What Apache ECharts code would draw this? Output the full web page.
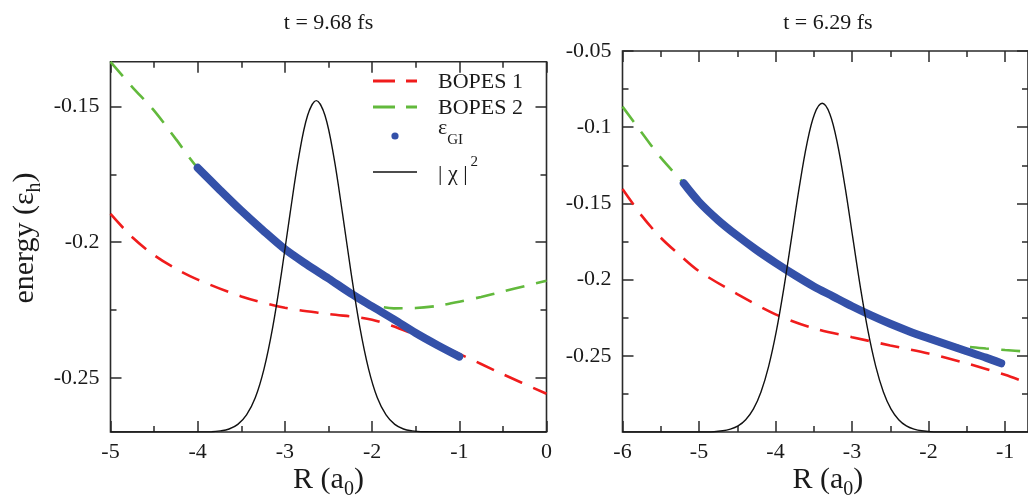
<!DOCTYPE html>
<html>
<head>
<meta charset="utf-8">
<script src="https://cdn.jsdelivr.net/npm/echarts@6/dist/echarts.min.js"></script>
<style>
  html, body { margin: 0; padding: 0; background: #fff; overflow: hidden; }
  #chart { width: 1028px; height: 500px; }
</style>
</head>
<body>
<div id="chart"></div>
<script>
// ---------- panel 1 : t = 9.68 fs ----------
const p1Title = 't = 9.68 fs';
const p1XTicks = [-5, -4, -3, -2, -1, 0];
const p1XMinor = [-4.5, -3.5, -2.5, -1.5, -0.5];
const p1YTicks = [-0.25, -0.2, -0.15];
const p1YMinor = [-0.225, -0.175];

const p1Bopes1R = [-5, -4.75, -4.5, -4.25, -4, -3.5, -3, -2.5, -2, -1.5, -1, -0.5, 0];
const p1Bopes1E = [-0.1896, -0.1982, -0.2048, -0.2098, -0.2138, -0.2200, -0.2242, -0.2265, -0.2286, -0.2342, -0.2412, -0.2487, -0.2559];

const p1Bopes2R = [-5, -4.75, -4.5, -4.25, -4, -3.5, -3, -2.5, -2.25, -2, -1.75, -1.5, -1.25, -1, -0.75, -0.5, -0.25, 0];
const p1Bopes2E = [-0.1335, -0.1428, -0.1515, -0.1620, -0.1726, -0.1884, -0.2026, -0.2134, -0.2186, -0.2228, -0.2244, -0.2243, -0.2235, -0.2220, -0.2202, -0.2182, -0.2162, -0.2142];

const p1GiR = [-4, -3.75, -3.5, -3.25, -3, -2.75, -2.5, -2.25, -2, -1.75, -1.5, -1.25, -1];
const p1GiE = [-0.1726, -0.1806, -0.1884, -0.1957, -0.2026, -0.2082, -0.2134, -0.2188, -0.2237, -0.2285, -0.2335, -0.2380, -0.2422];

const p1ChiR = [-5, -3.84, -3.74, -3.64, -3.54, -3.44, -3.34, -3.24, -3.14, -3.04, -2.94, -2.84, -2.74, -2.64,
                -2.54, -2.44, -2.34, -2.24, -2.14, -2.04, -1.94, -1.84, -1.74, -1.64, -1.54, -1.44, 0];
const p1ChiE = [-0.2700, -0.2699, -0.2696, -0.2689, -0.2672, -0.2637, -0.2574, -0.2468, -0.2314, -0.2115, -0.1893, -0.1684, -0.1533, -0.1478,
                -0.1533, -0.1684, -0.1893, -0.2115, -0.2314, -0.2468, -0.2574, -0.2637, -0.2672, -0.2689, -0.2696, -0.2699, -0.2700];

// ---------- panel 2 : t = 6.29 fs ----------
const p2Title = 't = 6.29 fs';
const p2XTicks = [-6, -5, -4, -3, -2, -1];
const p2XMinor = [-5.5, -4.5, -3.5, -2.5, -1.5];
const p2YTicks = [-0.25, -0.2, -0.15, -0.1, -0.05];
const p2YMinor = [-0.275, -0.225, -0.175, -0.125, -0.075];

const p2Bopes1R = [-6, -5.75, -5.5, -5.25, -5, -4.5, -4, -3.5, -3, -2.5, -2, -1.5, -1, -0.7];
const p2Bopes1E = [-0.1406, -0.1580, -0.1725, -0.1840, -0.1945, -0.2095, -0.2228, -0.2320, -0.2378, -0.2432, -0.2485, -0.2550, -0.2625, -0.2680];

const p2Bopes2R = [-6, -5.75, -5.5, -5.2, -5, -4.5, -4, -3.5, -3, -2.5, -2, -1.75, -1.5, -1.25, -1, -0.7];
const p2Bopes2E = [-0.0865, -0.1035, -0.1200, -0.1368, -0.1490, -0.1712, -0.1890, -0.2045, -0.2175, -0.2290, -0.2385, -0.2422, -0.2440, -0.2452, -0.2462, -0.2473];

const p2GiR = [-5.2, -5, -4.75, -4.5, -4.25, -4, -3.75, -3.5, -3.25, -3, -2.75, -2.5, -2.25, -2, -1.75, -1.5, -1.25, -1.05];
const p2GiE = [-0.1368, -0.1490, -0.1610, -0.1712, -0.1805, -0.1890, -0.1970, -0.2045, -0.2110, -0.2175, -0.2235, -0.2290, -0.2340, -0.2385, -0.2428, -0.2470, -0.2512, -0.2549];

const p2ChiR = [-6, -4.89, -4.69, -4.59, -4.49, -4.39, -4.29, -4.19, -4.09, -3.99, -3.89, -3.79, -3.69, -3.59, -3.49, -3.39,
                -3.29, -3.19, -3.09, -2.99, -2.89, -2.79, -2.69, -2.59, -2.49, -2.39, -2.29, -2.19, -2.09, -1.89, -0.7];
const p2ChiE = [-0.3000, -0.3000, -0.2992, -0.2981, -0.2960, -0.2919, -0.2850, -0.2737, -0.2569, -0.2340, -0.2052, -0.1725, -0.1395, -0.1109, -0.0913, -0.0843,
                -0.0913, -0.1109, -0.1395, -0.1725, -0.2052, -0.2340, -0.2569, -0.2737, -0.2850, -0.2919, -0.2960, -0.2981, -0.2992, -0.3000, -0.3000];

const seriesNames = ['BOPES 1', 'BOPES 2', 'εGI', '|χ|²'];

// ---------- styling / layout ----------
const FONT = '"Liberation Serif", "Times New Roman", serif';
const INK = '#2a2a2a';
const RED = '#f01c1c';
const GREEN = '#62b93c';
const BLUE = '#3451a9';
const DASH = [19, 12];

const panels = [
  { title: p1Title, grid: { left: 110.5, top: 61.8, width: 436, height: 370.2 }, x: [-5, 0], y: [-0.27, -0.1335],
    xt: p1XTicks, xm: p1XMinor, yt: p1YTicks, ym: p1YMinor,
    b1: [p1Bopes1R, p1Bopes1E], b2: [p1Bopes2R, p1Bopes2E], gi: [p1GiR, p1GiE], chi: [p1ChiR, p1ChiE] },
  { title: p2Title, grid: { left: 622.5, top: 51, width: 410.75, height: 381 }, x: [-6, -0.7], y: [-0.3, -0.05],
    xt: p2XTicks, xm: p2XMinor, yt: p2YTicks, ym: p2YMinor,
    b1: [p2Bopes1R, p2Bopes1E], b2: [p2Bopes2R, p2Bopes2E], gi: [p2GiR, p2GiE], chi: [p2ChiR, p2ChiE] }
];

function zip(pair) { return pair[0].map((r, i) => [r, pair[1][i]]); }

// four axes per direction: labelled major side, mirrored major side, then the two minor sets
function tickAxes(dim, gridIndex, range, majors, minors) {
  const sides = dim === 'x' ? ['bottom', 'top'] : ['left', 'right'];
  const specs = [
    { pos: sides[0], vals: majors, len: 11, label: true },
    { pos: sides[1], vals: majors, len: 11, label: false },
    { pos: sides[0], vals: minors, len: 6, label: false },
    { pos: sides[1], vals: minors, len: 6, label: false }
  ];
  return specs.map(s => ({
    type: 'value', gridIndex, position: s.pos, min: range[0], max: range[1],
    axisLine: { show: false, onZero: false }, splitLine: { show: false },
    axisTick: { show: true, inside: true, length: s.len, customValues: s.vals,
                lineStyle: { color: INK, width: 1.5 } },
    axisLabel: s.label
      ? { show: true, customValues: s.vals, fontFamily: FONT, fontSize: 22, color: '#1a1a1a', margin: dim === 'x' ? 9 : 11 }
      : { show: false }
  }));
}

const xAxes = [], yAxes = [], grids = [], series = [];
panels.forEach((p, gi) => {
  grids.push(Object.assign({ show: true, borderColor: INK, borderWidth: 1.6, backgroundColor: 'transparent' }, p.grid));
  xAxes.push(...tickAxes('x', gi, p.x, p.xt, p.xm));
  yAxes.push(...tickAxes('y', gi, p.y, p.yt, p.ym));
  const ax = { xAxisIndex: gi * 4, yAxisIndex: gi * 4 };
  series.push(Object.assign({ type: 'line', name: seriesNames[0], data: zip(p.b1), smooth: 0.3, symbol: 'none', z: 2,
    lineStyle: { color: RED, width: 2.6, type: DASH } }, ax));
  series.push(Object.assign({ type: 'line', name: seriesNames[1], data: zip(p.b2), smooth: 0.3, symbol: 'none', z: 2,
    lineStyle: { color: GREEN, width: 2.6, type: DASH } }, ax));
  series.push(Object.assign({ type: 'line', name: seriesNames[2], data: zip(p.gi), smooth: 0.3, symbol: 'none', z: 3,
    lineStyle: { color: BLUE, width: 8, cap: 'round', join: 'round' } }, ax));
  series.push(Object.assign({ type: 'line', name: seriesNames[3], data: zip(p.chi), smooth: 0.35, symbol: 'none', z: 4,
    lineStyle: { color: '#111', width: 1.4 } }, ax));
});

// text helpers (sub/superscripts are placed from measured widths)
const measureCtx = document.createElement('canvas').getContext('2d');
function textW(str, size) { measureCtx.font = size + 'px ' + FONT; return measureCtx.measureText(str).width; }
function txt(str, x, y, size, align, vAlign) {
  return { type: 'text', silent: true, style: { text: str, x, y, font: size + 'px ' + FONT, fill: '#1a1a1a',
    align: align || 'left', textAlign: align || 'left', verticalAlign: vAlign || 'middle', textVerticalAlign: vAlign || 'middle' } };
}
// main text + lowered small text + trailing main text, centred on cx
function subLabel(head, sub, tail, cx, cy, size, subSize, drop) {
  const w1 = textW(head, size), w2 = textW(sub, subSize), w3 = textW(tail, size);
  const x0 = cx - (w1 + w2 + w3) / 2;
  return [txt(head, x0, cy, size), txt(sub, x0 + w1, cy + drop, subSize), txt(tail, x0 + w1 + w2, cy, size)];
}

const graphics = [];
panels.forEach(p => {
  const cx = p.grid.left + p.grid.width / 2;
  graphics.push(txt(p.title, cx, 23, 22, 'center'));
  graphics.push(...subLabel('R (a', '0', ')', cx, 480, 30, 20, 10));
});
// vertical axis title
graphics.push({ type: 'group', x: 25, y: 238, rotation: Math.PI / 2,
  children: subLabel('energy (ε', 'h', ')', 0, 0, 30, 20, 10) });

// legend
const LX0 = 373, LX1 = 417, TX = 438;
const rows = [81, 107, 136, 172];
graphics.push({ type: 'line', silent: true, shape: { x1: LX0, y1: rows[0], x2: LX1, y2: rows[0] },
  style: { stroke: RED, lineWidth: 2.8, lineDash: [22, 11] } });
graphics.push({ type: 'line', silent: true, shape: { x1: LX0, y1: rows[1], x2: LX1, y2: rows[1] },
  style: { stroke: GREEN, lineWidth: 2.8, lineDash: [22, 11] } });
graphics.push({ type: 'circle', silent: true, shape: { cx: (LX0 + LX1) / 2, cy: rows[2], r: 3.6 }, style: { fill: BLUE } });
graphics.push({ type: 'line', silent: true, shape: { x1: LX0, y1: rows[3], x2: LX1, y2: rows[3] },
  style: { stroke: '#111', lineWidth: 1.6 } });
graphics.push(txt('BOPES 1', TX, rows[0] + 1, 22));
graphics.push(txt('BOPES 2', TX, rows[1] + 1, 22));
graphics.push(txt('ε', TX, rows[2] - 8, 22));
graphics.push(txt('GI', TX + textW('ε', 22), rows[2] + 4, 15));
graphics.push(txt('| χ |', TX, rows[3] + 2, 22));
graphics.push(txt('2', TX + textW('| χ |', 22) + 3, rows[3] - 10, 15));

const chart = echarts.init(document.getElementById('chart'), null, { renderer: 'canvas' });
chart.setOption({
  animation: false,
  backgroundColor: '#fff',
  grid: grids,
  xAxis: xAxes,
  yAxis: yAxes,
  series: series,
  graphic: graphics
});
</script>
</body>
</html>
